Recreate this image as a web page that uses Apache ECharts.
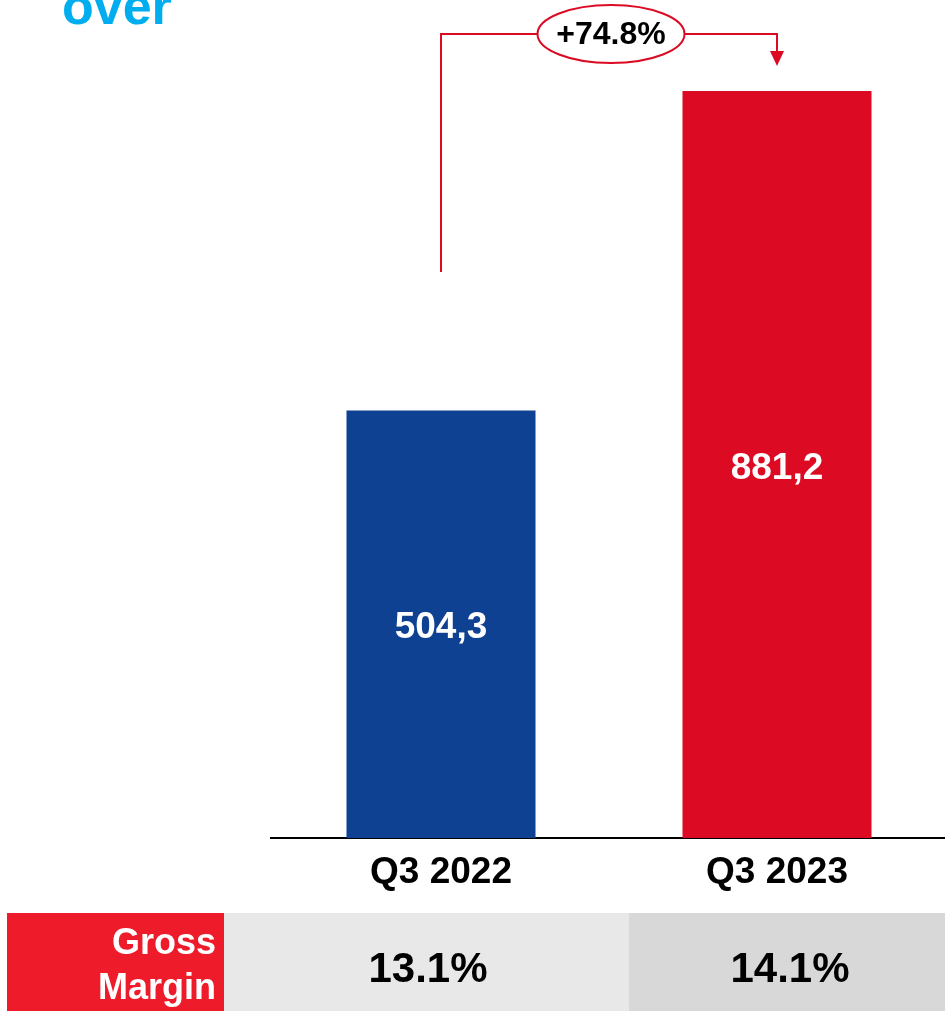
<!DOCTYPE html>
<html><head><meta charset="utf-8">
<script src="https://cdn.jsdelivr.net/npm/echarts@6/dist/echarts.min.js"></script>
<style>html,body{margin:0;padding:0;background:#fff;overflow:hidden}#c{width:945px;height:1011px}</style>
</head><body><div id="c"></div>
<script>
const titleText = 'over';
const categories = ['Q3 2022', 'Q3 2023'];
const values = [504.3, 881.2];
const valueLabels = ['504,3', '881,2'];
const barColors = ['#0E4191', '#DC0A23'];
const growthLabel = '+74.8%';
const marginTitle = 'Gross\nMargin';
const margins = ['13.1%', '14.1%'];

const FONT = '"Liberation Sans", Arial, sans-serif';
const chart = echarts.init(document.getElementById('c'), null, {renderer: 'canvas'});

chart.setOption({
  animation: false,
  backgroundColor: '#ffffff',
  grid: {left: 273, right: 0, top: 75, bottom: 1011 - 838, containLabel: false},
  xAxis: {
    type: 'category', data: categories,
    axisLine: {show: true, lineStyle: {color: '#000', width: 2}},
    axisTick: {show: false},
    axisLabel: {color: '#000', fontFamily: FONT, fontWeight: 'bold', fontSize: 37, margin: 16}
  },
  yAxis: {type: 'value', min: 0, max: 900, show: false, splitLine: {show: false}},
  series: [{
    type: 'bar', barWidth: 189,
    data: values.map((v, i) => ({value: v, itemStyle: {color: barColors[i]}})),
    label: {
      show: true, position: 'inside', offset: [0, 4], color: '#fff', fontFamily: FONT, fontWeight: 'bold', fontSize: 37,
      formatter: p => valueLabels[p.dataIndex]
    }
  }]
});

const p0 = chart.convertToPixel({seriesIndex: 0}, [0, values[0]]);
const p1 = chart.convertToPixel({seriesIndex: 0}, [1, values[1]]);
const red = '#DC0A23';
const lineY = 34;
const ex = 611, ery = 29, erx = 73.5;
const tipY = p1[1] - 25;

const g = [
  {type: 'line', shape: {x1: 270, y1: 838, x2: 275, y2: 838}, style: {stroke: '#000', lineWidth: 2}},
  {type: 'text', x: 62, y: -16, style: {text: titleText, fill: '#00AEEF', font: 'bold 52px ' + FONT, verticalAlign: 'top'}},
  {type: 'polyline', shape: {points: [[p0[0], 272], [p0[0], lineY], [ex - erx, lineY]]}, style: {stroke: red, lineWidth: 2, fill: null}},
  {type: 'polyline', shape: {points: [[ex + erx, lineY], [p1[0], lineY], [p1[0], tipY - 14]]}, style: {stroke: red, lineWidth: 2, fill: null}},
  {type: 'polygon', shape: {points: [[p1[0] - 7, tipY - 15], [p1[0] + 7, tipY - 15], [p1[0], tipY]]}, style: {fill: red}},
  {type: 'ellipse', shape: {cx: ex, cy: lineY, rx: erx, ry: ery}, style: {fill: '#fff', stroke: red, lineWidth: 2}},
  {type: 'text', x: ex, y: lineY + 1, style: {text: growthLabel, fill: '#000', font: 'bold 32px ' + FONT, align: 'center', verticalAlign: 'middle'}},
  // table
  {type: 'rect', shape: {x: 7, y: 913, width: 217, height: 98}, style: {fill: '#EE1C2B'}},
  {type: 'rect', shape: {x: 224, y: 913, width: 405, height: 98}, style: {fill: '#E8E8E8'}},
  {type: 'rect', shape: {x: 629, y: 913, width: 316, height: 98}, style: {fill: '#D8D8D8'}},
  {type: 'text', x: 216, y: 967, style: {text: marginTitle, fill: '#fff', font: 'bold 36px ' + FONT, align: 'right', verticalAlign: 'middle', lineHeight: 45}},
  {type: 'text', x: 428, y: 970, style: {text: margins[0], fill: '#000', font: 'bold 42px ' + FONT, align: 'center', verticalAlign: 'middle'}},
  {type: 'text', x: 790, y: 970, style: {text: margins[1], fill: '#000', font: 'bold 42px ' + FONT, align: 'center', verticalAlign: 'middle'}}
];
chart.setOption({graphic: g});
</script>
</body></html>
